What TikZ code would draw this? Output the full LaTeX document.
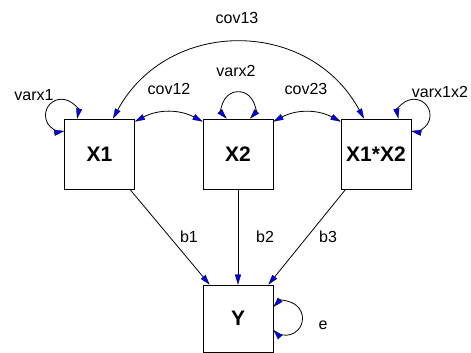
\documentclass[tikz,border=0pt]{standalone}
\usepackage{fontspec}
\setmainfont{Liberation Sans}
\usetikzlibrary{arrows.meta}
\definecolor{tipblue}{RGB}{0,0,235}

\begin{document}
\begin{tikzpicture}[x=1pt, y=1pt, line width=0.8pt,
        >={Triangle[length=10pt, width=6pt, fill=tipblue, line width=0.3pt]},
        var/.style={draw, minimum width=70pt, minimum height=70pt, inner sep=0pt,
                    font=\bfseries\fontsize{21}{24}\selectfont},
        lbl/.style={font=\fontsize{16}{18}\selectfont, inner sep=0pt}
    ]
        \useasboundingbox (0,0) rectangle (471,353);

        \node[var] (x1)   at (99.5,199) {X1};
        \node[var] (x2)   at (238,199)  {X2};
        \node[var] (x1x2) at (376,199)  {X1*X2};
        \node[var, minimum height=67pt] (y) at (238,34.5) {Y};

        \draw[<->] ([xshift=13.5pt]x1.north) .. controls +(55,101) and +(-55,101) .. ([xshift=-12pt]x1x2.north);
        \draw[<->] ([yshift=-3pt]x1.north east) to[bend left=28] ([yshift=-3pt]x2.north west);
        \draw[<->] ([yshift=-3pt]x2.north east) to[bend left=28] ([yshift=-3pt]x1x2.north west);

        \draw[<->] ([xshift=13pt]x1.north west) arc[start angle=-12, end angle=280, radius=16];
        \draw[<->] ([xshift=12pt]x2.north) arc[start angle=-43, end angle=223, radius=16];
        \draw[<->] ([xshift=-13pt]x1x2.north east) arc[start angle=192, end angle=-100, radius=16];
        \draw[<->] ([yshift=11.5pt]y.east) arc[start angle=137, end angle=-137, radius=16.8];

        \draw[->] ([xshift=-5pt]x1.south east) -- ([xshift=7pt]y.north west);
        \draw[->] (x2) -- (y);
        \draw[->] ([xshift=5pt]x1x2.south west) -- ([xshift=-5pt]y.north east);

        \node[lbl] (cov13)   at (237,335) {cov13};
        \node[lbl] (varx2)   at (236,282) {varx2};
        \node[lbl] (cov12)   at (169,264) {cov12};
        \node[lbl] (cov23)   at (306,264) {cov23};
        \node[lbl] (varx1)   at (34,258)  {varx1};
        \node[lbl] (varx1x2) at (440,261) {varx1x2};
        \node[lbl] (b1)      at (189,116) {b1};
        \node[lbl] (b2)      at (265,116) {b2};
        \node[lbl] (b3)      at (328,116) {b3};
        \node[lbl] (e)       at (323,28)  {e};
    \end{tikzpicture}
\end{document}
